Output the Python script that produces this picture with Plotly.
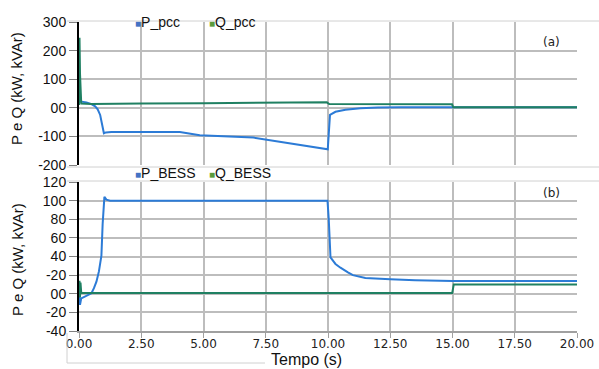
import plotly.graph_objects as go

# ---------------- data ----------------
t_p_pcc = [0, 0.05, 0.3, 0.5, 0.65, 0.75, 0.85, 0.93, 1.0, 1.08, 1.3, 2.5, 4.05, 4.85, 7.0, 9.99,
           10.08, 10.3, 10.7, 11.3, 12.0, 12.9, 15.0, 20.0]
p_pcc = [20, 22, 19, 13, 5, -5, -25, -60, -89, -86, -85, -85, -85, -96, -104, -145,
         -25, -14, -7, -2, 1, 2, 2, 2]

t_q_pcc = [0, 0.02, 0.04, 0.06, 0.09, 0.5, 0.9, 1.0, 2.5, 5.0, 7.5, 9.95, 10.05, 12.5, 14.98, 15.03, 20.0]
q_pcc = [10, 245, 120, 40, 15, 13, 13, 15, 15, 16, 17, 19, 13, 12.5, 12, 2, 2]

t_p_bess = [0, 0.04, 0.09, 0.3, 0.5, 0.6, 0.7, 0.8, 0.9, 0.95, 1.02, 1.1, 1.25, 1.5, 5.0, 9.98,
            10.03, 10.1, 10.3, 10.5, 10.8, 11.0, 11.5, 12.0, 12.5, 13.5, 14.99, 15.02, 20.0]
p_bess = [0, -12, -5, -2, 0.5, 6, 13, 24, 41, 75, 104, 101, 100, 100, 100, 100,
          80, 39, 32, 28, 23, 20, 17, 16, 15.5, 14.5, 14, 13.7, 13.7]

t_q_bess = [0, 0.02, 0.04, 0.06, 0.09, 0.2, 5.0, 10.0, 14.99, 15.05, 20.0]
q_bess = [0, 14, -4, 12, 1, 0.8, 0.8, 0.8, 0.8, 10, 10]

y_top_ticks = [-200, -100, 0, 100, 200, 300]
y_top_text = ["-200", "-100", "00", "100", "200", "300"]
y_bot_ticks = [-40, -20, 0, 20, 40, 60, 80, 100, 120]
y_bot_text = ["-40", "-20", "00", "-20", "40", "60", "80", "100", "120"]
x_ticks = [0, 2.5, 5, 7.5, 10, 12.5, 15, 17.5, 20]
x_text = ["0.00", "2.50", "5.00", "7.50", "10.00", "12.50", "15.00", "17.50", "20.00"]

names_top = ["P_pcc", "Q_pcc"]
names_bot = ["P_BESS", "Q_BESS"]

# ---------------- styling ----------------
W, H = 599, 369
BLUE = "#2c7bd6"
GREEN = "#1f8062"
LEG_BLUE = "#4472c4"
LEG_GREEN = "#5b9b3c"
GRID = "#bdbdbd"
ARIAL = "Liberation Sans, Arial, sans-serif"
VERD = "DejaVu Sans, Verdana, sans-serif"


def px(x):
    return x / W


def py(y):
    return 1 - y / H


fig = go.Figure()
fig.add_trace(go.Scatter(x=t_p_pcc, y=p_pcc, mode="lines", name=names_top[0],
                         line=dict(color=BLUE, width=2), xaxis="x", yaxis="y"))
fig.add_trace(go.Scatter(x=t_q_pcc, y=q_pcc, mode="lines", name=names_top[1],
                         line=dict(color=GREEN, width=2), xaxis="x", yaxis="y"))
fig.add_trace(go.Scatter(x=t_p_bess, y=p_bess, mode="lines", name=names_bot[0],
                         line=dict(color=BLUE, width=2), xaxis="x2", yaxis="y2"))
fig.add_trace(go.Scatter(x=t_q_bess, y=q_bess, mode="lines", name=names_bot[1],
                         line=dict(color=GREEN, width=2), xaxis="x2", yaxis="y2"))

xdom = [px(79), px(577)]
common_x = dict(range=[0, 20], tickmode="array", tickvals=x_ticks, showgrid=True,
                gridcolor=GRID, gridwidth=2, zeroline=False, domain=xdom, automargin=False)
common_y = dict(showgrid=True, gridcolor=GRID, gridwidth=2, zeroline=False, automargin=False,
                tickmode="array", showline=True, linecolor="black", linewidth=2,
                ticks="outside", ticklen=8, tickcolor="#808080",
                tickfont=dict(family=ARIAL, size=14, color="#111"))

fig.update_layout(
    template="none",
    width=W, height=H, autosize=False,
    margin=dict(l=0, r=0, t=0, b=0, pad=0),
    paper_bgcolor="white", plot_bgcolor="white",
    showlegend=False,
    xaxis=dict(common_x, anchor="y", showticklabels=False, ticks=""),
    yaxis=dict(common_y, domain=[py(165), py(22)], range=[-200, 300],
               tickvals=y_top_ticks, ticktext=y_top_text),
    xaxis2=dict(common_x, anchor="y2", ticktext=x_text, showline=True, linecolor="#a0a0a0",
                linewidth=1.5, ticks="outside", ticklen=5, tickcolor="#a0a0a0",
                ticklabelstandoff=-4,
                tickfont=dict(family=VERD, size=12, color="#222")),
    yaxis2=dict(common_y, domain=[py(331), py(182)], range=[-40, 120],
                tickvals=y_bot_ticks, ticktext=y_bot_text),
)

annotations = []
# y titles
for yc in (89, 260):
    annotations.append(dict(x=px(17), y=py(yc), xref="paper", yref="paper", text="P e Q (kW, kVAr)",
                            textangle=-90, showarrow=False, xanchor="center", yanchor="middle",
                            font=dict(family=ARIAL, size=15, color="#111")))
# x title
annotations.append(dict(x=px(307), y=py(369), xref="paper", yref="paper", text="Tempo (s)",
                        showarrow=False, yanchor="bottom", borderpad=0,
                        font=dict(family=ARIAL, size=16, color="#111")))
# panel labels
annotations.append(dict(x=px(562), y=py(33), xref="paper", yref="paper", text="(a)",
                        showarrow=False, font=dict(family=VERD, size=12, color="#222")))
annotations.append(dict(x=px(562), y=py(193), xref="paper", yref="paper", text="(b)",
                        showarrow=False, font=dict(family=VERD, size=12, color="#222")))
# legends
for (name, col, xl, yc) in [(names_top[0], LEG_BLUE, 133, 12), (names_top[1], LEG_GREEN, 207, 12),
                            (names_bot[0], LEG_BLUE, 133, 173), (names_bot[1], LEG_GREEN, 207, 173)]:
    annotations.append(dict(x=px(xl), y=py(yc), xref="paper", yref="paper", xanchor="left",
                            text=f"<span style='color:{col};font-size:10px'>■</span>{name}",
                            showarrow=False, font=dict(family=ARIAL, size=14, color="#111")))
fig.update_layout(annotations=annotations)

# faint chart frames
FR = "#d0d0d0"
shapes = []
for yy in (21, 167, 181):
    shapes.append(dict(type="line", xref="paper", yref="paper", x0=px(67), x1=1,
                       y0=py(yy), y1=py(yy), line=dict(color=FR, width=1), layer="above"))
shapes.append(dict(type="line", xref="paper", yref="paper", x0=px(67), x1=px(265),
                   y0=py(363), y1=py(363), line=dict(color=FR, width=1), layer="above"))
shapes.append(dict(type="line", xref="paper", yref="paper", x0=px(67), x1=px(67),
                   y0=py(333), y1=py(363), line=dict(color=FR, width=1), layer="above"))
fig.update_layout(shapes=shapes)

fig.write_html("out.html", config={"displayModeBar": False},
               post_script="document.body.style.margin='0';document.body.style.overflow='hidden';")
